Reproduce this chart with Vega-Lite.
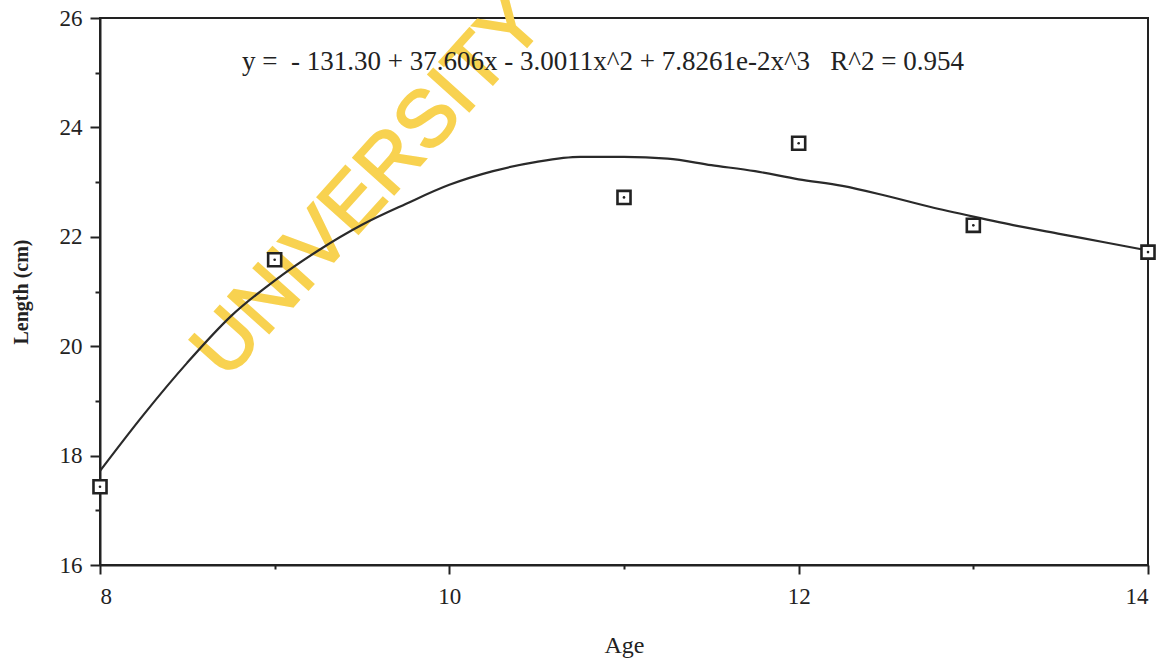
{
  "$schema": "https://vega.github.io/schema/vega-lite/v6.json",
  "autosize": "none",
  "width": 1048,
  "height": 547,
  "padding": {"left": 100, "top": 18, "right": 13, "bottom": 93},
  "background": "white",
  "config": {
    "view": {"stroke": "#222", "strokeWidth": 2},
    "font": "Liberation Serif"
  },
  "datasets": {
    "observed": [
      {"age": 8, "length": 17.43},
      {"age": 9, "length": 21.58},
      {"age": 11, "length": 22.72},
      {"age": 12, "length": 23.71},
      {"age": 13, "length": 22.21},
      {"age": 14, "length": 21.72}
    ],
    "fit": [
      {"age": 8.0, "length": 17.72},
      {"age": 8.25, "length": 18.75},
      {"age": 8.5, "length": 19.7},
      {"age": 8.75, "length": 20.55},
      {"age": 9.0, "length": 21.2},
      {"age": 9.25, "length": 21.75},
      {"age": 9.5, "length": 22.22},
      {"age": 9.75, "length": 22.6},
      {"age": 10.0, "length": 22.95},
      {"age": 10.25, "length": 23.2},
      {"age": 10.5, "length": 23.37},
      {"age": 10.75, "length": 23.46},
      {"age": 11.0, "length": 23.46},
      {"age": 11.25, "length": 23.43},
      {"age": 11.5, "length": 23.31},
      {"age": 11.75, "length": 23.2},
      {"age": 12.0, "length": 23.05},
      {"age": 12.25, "length": 22.93},
      {"age": 12.5, "length": 22.75},
      {"age": 12.75, "length": 22.55},
      {"age": 13.0, "length": 22.37},
      {"age": 13.25, "length": 22.2},
      {"age": 13.5, "length": 22.05},
      {"age": 13.75, "length": 21.9},
      {"age": 14.0, "length": 21.75}
    ],
    "watermark": [{"age": 9.54, "length": 22.92, "label": "UNIVERSITY"}],
    "equation": [{"age": 10.88, "length": 25.2, "label": "y =\u00a0 - 131.30 + 37.606x - 3.0011x^2 + 7.8261e-2x^3 \u00a0 R^2 = 0.954"}]
  },
  "encoding": {
    "x": {
      "field": "age",
      "type": "quantitative",
      "scale": {"domain": [8, 14], "nice": false, "zero": false},
      "axis": {
        "values": [8, 9, 10, 11, 12, 13, 14],
        "labelExpr": "datum.value % 2 === 0 ? datum.label : ''",
        "tickSize": {"condition": {"test": "datum.value % 2 === 0", "value": 9}, "value": 4},
        "grid": false,
        "domainColor": "#222",
        "domainWidth": 2,
        "tickColor": "#222",
        "tickWidth": 2,
        "labelFont": "Liberation Serif",
        "labelFontSize": 23,
        "labelColor": "#222",
        "labelPadding": 11,
        "title": "Age",
        "titleFont": "Liberation Serif",
        "titleFontSize": 24,
        "titleFontWeight": "normal",
        "titleColor": "#222",
        "titlePadding": 25
      }
    },
    "y": {
      "field": "length",
      "type": "quantitative",
      "scale": {"domain": [16, 26], "nice": false, "zero": false},
      "axis": {
        "values": [16, 17, 18, 19, 20, 21, 22, 23, 24, 25, 26],
        "labelExpr": "datum.value % 2 === 0 ? datum.label : ''",
        "tickSize": {"condition": {"test": "datum.value % 2 === 0", "value": 10}, "value": 5},
        "grid": false,
        "domainColor": "#222",
        "domainWidth": 2,
        "tickColor": "#222",
        "tickWidth": 2,
        "labelFont": "Liberation Serif",
        "labelFontSize": 23,
        "labelColor": "#222",
        "labelPadding": 8,
        "title": "Length (cm)",
        "titleFont": "Liberation Serif",
        "titleFontSize": 20,
        "titleFontWeight": "bold",
        "titleColor": "#222",
        "titlePadding": 28
      }
    }
  },
  "layer": [
    {
      "data": {"name": "watermark"},
      "mark": {"type": "text", "font": "Liberation Sans", "fontSize": 80, "fontWeight": "normal", "angle": -48, "color": "#f8d250", "stroke": "#f8d250", "strokeWidth": 2, "align": "center", "baseline": "middle"},
      "encoding": {"text": {"field": "label"}}
    },
    {
      "data": {"name": "fit"},
      "mark": {"type": "line", "color": "#2a2a2a", "strokeWidth": 2.2, "interpolate": "monotone"}
    },
    {
      "data": {"name": "observed"},
      "mark": {"type": "square", "size": 170, "filled": false, "fill": "white", "fillOpacity": 1, "stroke": "#222", "strokeWidth": 2.6, "opacity": 1}
    },
    {
      "data": {"name": "observed"},
      "mark": {"type": "circle", "size": 7, "color": "#222", "opacity": 1}
    },
    {
      "data": {"name": "equation"},
      "mark": {"type": "text", "font": "Liberation Serif", "fontSize": 27, "color": "#222", "align": "center", "baseline": "middle"},
      "encoding": {"text": {"field": "label"}}
    }
  ]
}
